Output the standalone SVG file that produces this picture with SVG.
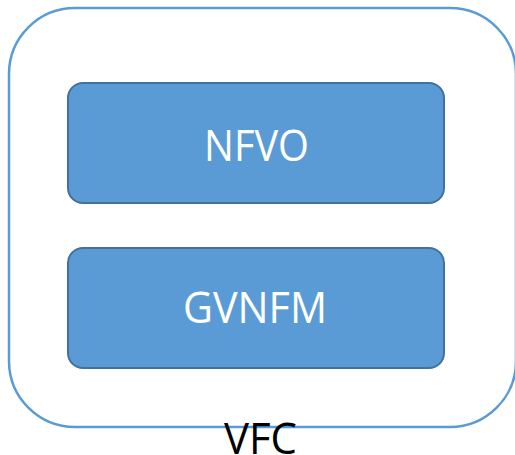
<svg xmlns="http://www.w3.org/2000/svg" width="515" height="455" viewBox="0 0 515 455">
<style>
.box{fill:#5b9bd5;stroke:#41719c;stroke-width:2}
.lbl{font-family:"Open Sans","Liberation Sans",sans-serif;font-size:43px;fill:#ffffff;text-anchor:middle}
.outer{fill:#ffffff;stroke:#5b9bd5;stroke-width:2.5}
</style>
<rect width="515" height="455" fill="#ffffff"/>
<g id="vfc">
<rect class="outer" x="9" y="8" width="507" height="419" rx="66" ry="66"/>
<text x="260.5" y="454" font-family="'Open Sans','Liberation Sans',sans-serif" font-size="43" fill="#000000" text-anchor="middle" textLength="73" lengthAdjust="spacingAndGlyphs">VFC</text>
</g>
<g id="nfvo">
<rect class="box" x="68" y="83" width="376" height="120" rx="15" ry="15"/>
<text class="lbl" x="256.5" y="161" textLength="105" lengthAdjust="spacingAndGlyphs">NFVO</text>
</g>
<g id="gvnfm">
<rect class="box" x="68" y="248" width="376" height="120" rx="15" ry="15"/>
<text class="lbl" x="255" y="323" textLength="144" lengthAdjust="spacingAndGlyphs">GVNFM</text>
</g>
<g id="connectors"/>
</svg>
